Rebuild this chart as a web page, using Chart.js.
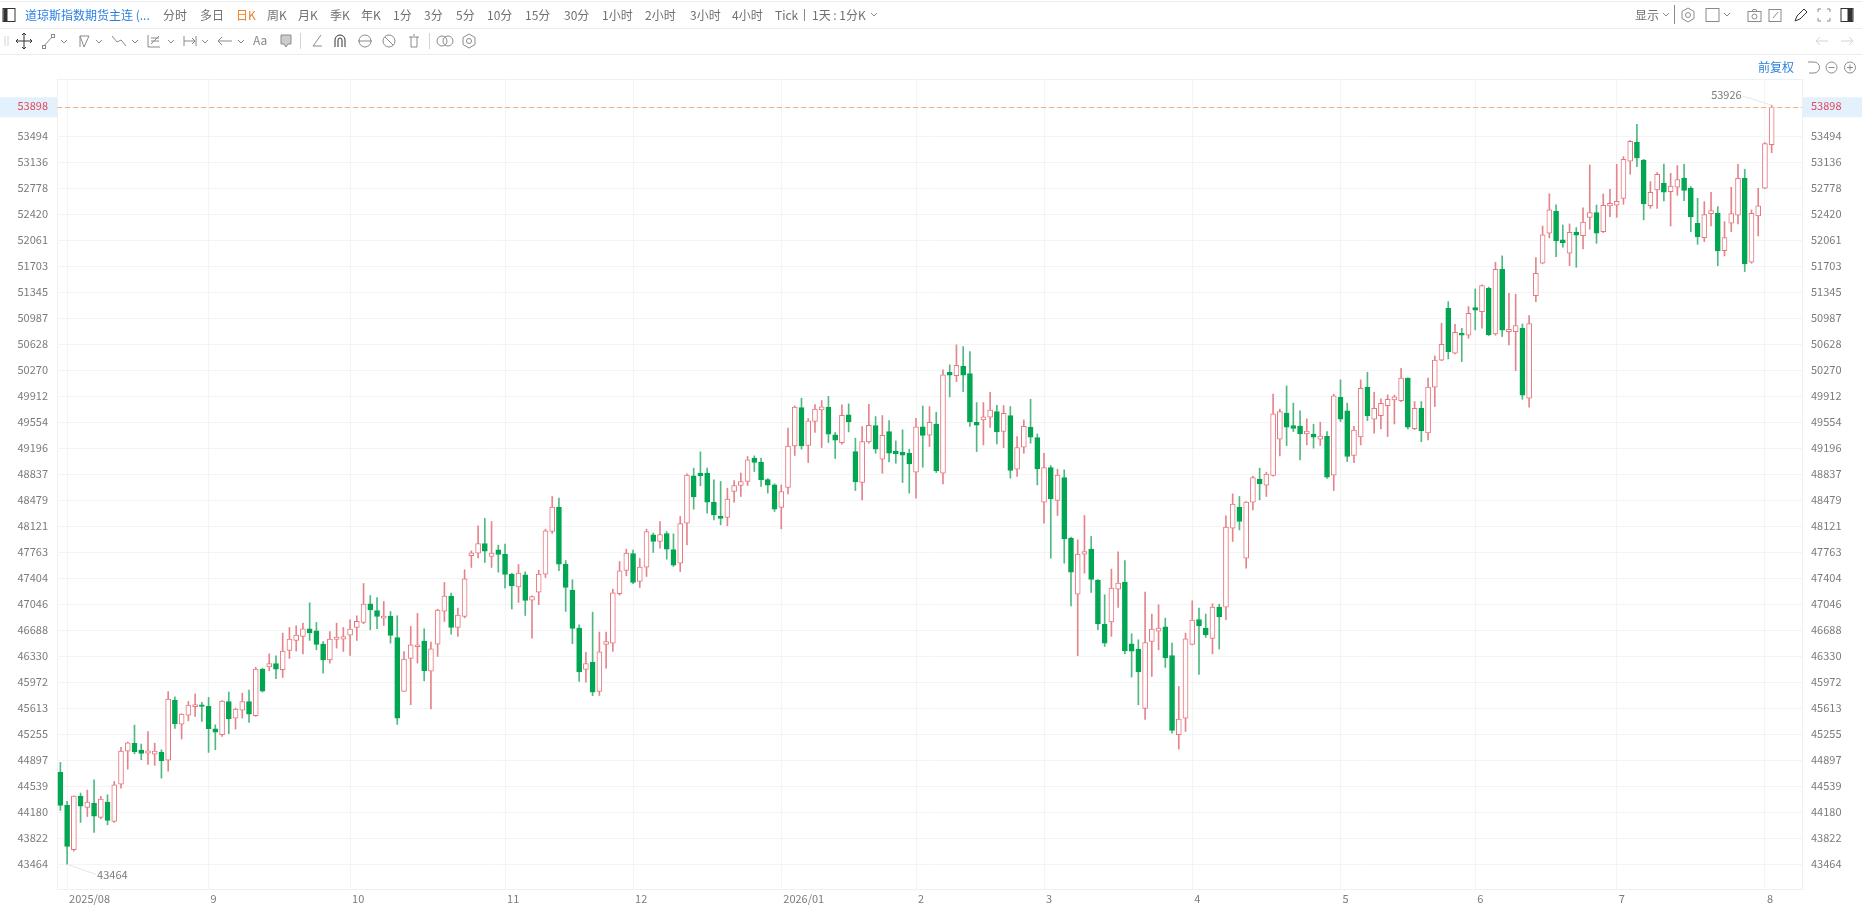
<!DOCTYPE html>
<html>
<head>
<meta charset="utf-8">
<title>道琼斯指数期货主连</title>
<script src="https://cdn.jsdelivr.net/npm/chart.js@4"></script>
<style>
    html, body { margin: 0; padding: 0; background: #fff; overflow: hidden; }
    body { width: 1862px; height: 918px; position: relative; font-family: "Noto Sans CJK SC", "Noto Sans", sans-serif; }
    canvas { position: absolute; left: 0; top: 0; }
    .bar { position: absolute; left: 0; width: 1862px; height: 1px; background: #ececec; }
    .t { position: absolute; top: 6px; font-size: 12px; line-height: 18px; color: #707070; white-space: nowrap; }
    #icons { position: absolute; left: 0; top: 0; }
    #icons * { fill: none; stroke: #8a8a8a; stroke-width: 1; }
    #icons .dark, #icons .dark * { stroke: #333; }
    #icons .pale, #icons .pale * { stroke: #d4d4d4; }
</style>
</head>
<body>
<canvas id="grafico" width="1862" height="918"></canvas>

<div class="bar" style="top:1px"></div>
<div class="bar" style="top:28px"></div>
<div class="bar" style="top:54px"></div>

<span class="t" style="left:25px;color:#2b7fe0">道琼斯指数期货主连 (...</span>
<span class="t" style="left:163px">分时</span>
<span class="t" style="left:200px">多日</span>
<span class="t" style="left:236px;color:#f0802a">日K</span>
<span class="t" style="left:267px">周K</span>
<span class="t" style="left:298px">月K</span>
<span class="t" style="left:330px">季K</span>
<span class="t" style="left:361px">年K</span>
<span class="t" style="left:393px">1分</span>
<span class="t" style="left:424px">3分</span>
<span class="t" style="left:456px">5分</span>
<span class="t" style="left:487px">10分</span>
<span class="t" style="left:525px">15分</span>
<span class="t" style="left:564px">30分</span>
<span class="t" style="left:602px">1小时</span>
<span class="t" style="left:645px">2小时</span>
<span class="t" style="left:690px">3小时</span>
<span class="t" style="left:732px">4小时</span>
<span class="t" style="left:775px">Tick</span>
<span class="t" style="left:812px">1天 : 1分K</span>
<span class="t" style="left:1635px">显示</span>
<span class="t" style="left:1758px;top:58px;color:#2b7fe0">前复权</span>

<svg id="icons" width="1862" height="78">
    <!-- fila 1 -->
    <g class="dark"><rect x="3" y="8.5" width="12" height="13"/><rect x="4" y="9.5" width="3" height="11" style="fill:#333"/></g>
    <path d="M804.5 9v12"/><path d="M871 13l3 3 3-3"/>
    <path d="M1663 13l3 3 3-3"/><path d="M1674.5 5v19"/>
    <path d="M1688 8l6 3.5v7l-6 3.5-6-3.5v-7z"/><circle cx="1688" cy="15" r="2.5"/>
    <rect x="1706" y="8.5" width="13" height="13"/><path d="M1724 13l3 3 3-3"/>
    <rect x="1748" y="11.5" width="13" height="10"/><circle cx="1754.5" cy="16.5" r="2.5"/><path d="M1752 11.5l1-2h3l1 2"/>
    <rect x="1769" y="9.5" width="12" height="12"/><path d="M1773 18l5-6"/>
    <g class="dark"><path d="M1795 21l2-5 7-7 3 3-7 7z"/></g>
    <path d="M1818 12v-3h3M1830 12v-3h-3M1818 18v3h3M1830 18v3h-3"/>
    <g class="dark"><rect x="1841" y="8.5" width="12" height="13"/><rect x="1848" y="9.5" width="4" height="11" style="fill:#333"/></g>
    <!-- fila 2 -->
    <path d="M5 36v10M8 36v10" class="pale"/>
    <g class="dark"><path d="M24 33v16M16 41h16M22 35l2-2 2 2M22 47l2 2 2-2M18 39l-2 2 2 2M30 39l2 2-2 2"/></g>
    <path d="M44 46l8-9"/><rect x="42.5" y="45.5" width="3" height="3"/><rect x="51.5" y="34.5" width="3" height="3"/><path d="M61 40l3 3 3-3"/>
    <path d="M80 36h9l-5 11zM80 36v11"/><path d="M96 40l3 3 3-3"/>
    <path d="M112 36l5 6 4-2 5 6"/><path d="M132 40l3 3 3-3"/>
    <path d="M148 35v12h12M151 44l8-8M151 38h8M151 41h8"/><path d="M168 40l3 3 3-3"/>
    <path d="M184 36v10M196 36v10M184 41h11M192 38l3 3-3 3"/><path d="M202 40l3 3 3-3"/>
    <path d="M232 41h-14M222 37l-4 4 4 4"/><path d="M238 40l3 3 3-3"/>
    <text x="253" y="45" style="font-size:12px;fill:#888;stroke:none">Aa</text>
    <path d="M281 35h10v9h-3l-2 3-2-3h-3z" style="fill:#ccc"/>
    <path d="M300.5 33v16" class="pale"/>
    <path d="M321 35l-8 11h9"/>
    <g class="dark"><path d="M335 47V40a5 5 0 0 1 10 0v7M338 47V40a2 2 0 0 1 4 0v7"/></g>
    <ellipse cx="365" cy="41" rx="6" ry="6"/><path d="M358 41h14"/>
    <circle cx="389" cy="41" r="6"/><path d="M385 37l8 8"/>
    <path d="M409 37h10M411 37v10h6V37M413 35h2"/>
    <path d="M429.5 33v16" class="pale"/>
    <circle cx="442" cy="41" r="5"/><circle cx="448" cy="41" r="5"/>
    <path d="M469 34l6 3.5v7l-6 3.5-6-3.5v-7z"/><circle cx="469" cy="41" r="2.5"/>
    <g class="pale"><path d="M1816 41h12M1820 37l-4 4 4 4"/><path d="M1853 41h-12M1849 37l4 4-4 4"/></g>
    <!-- fila 3 -->
    <path d="M1808 62h6a5 5 0 0 1 0 11h-5"/><circle cx="1831.5" cy="67.5" r="5.5"/><path d="M1828.5 67.5h6"/>
    <circle cx="1850" cy="67.5" r="5.5"/><path d="M1847 67.5h6M1850 64.5v6"/>
</svg>

<script>
// velas diarias
const opens = [
    44736,44277,43666,44405,44249,44304,44111,44323,44056,44571,
    45025,45131,45039,44998,44984,45011,44901,45728,45397,45521,
    45636,45664,45641,45333,45250,45709,45480,45590,45709,45512,
    46155,46187,46233,46146,46412,46550,46605,46711,46683,46500,
    46283,46564,46568,46623,46729,46798,47055,46963,46858,46886,
    46591,45847,46302,46463,46541,46127,46499,46954,47160,46729,
    46880,47717,47753,47886,47707,47799,47739,47464,47289,47455,
    47106,47216,47464,48052,48387,47602,47243,46720,46150,46251,
    45847,46495,46513,47193,47514,47748,47363,47560,48006,47914,
    48024,47804,47615,48166,48819,48855,48855,48456,48263,48244,
    48603,48685,48741,49062,49007,48768,48695,48382,48658,49232,
    49760,49237,49567,49728,49765,49384,49277,49658,49153,48727,
    49286,49511,49047,49429,49158,49144,49130,48869,49493,49378,
    49530,48855,50246,50200,50329,50228,49557,49589,49626,49704,
    49429,49649,48910,49213,49488,49346,48456,48933,48479,48795,
    47960,47188,47739,47808,47381,46775,46807,47257,47353,46504,
    46431,45613,46536,46679,46738,46343,45250,45480,46495,46839,
    46720,46577,47009,47009,48097,48387,47684,48456,48773,48690,
    48823,49324,49682,49512,49503,49397,49393,49324,49365,48828,
    49902,49714,49100,49356,50040,49599,49649,49787,49865,49856,
    50164,49470,49750,49411,50040,50412,51128,50508,50783,50756,
    51137,51082,51403,50774,51665,50806,50806,50852,49888,51302,
    51748,52162,52463,52070,51888,52175,52129,52381,52446,52184,
    52538,52547,52643,53153,53415,53171,52542,52758,52850,52735,
    52795,52923,52785,52299,52101,52432,52436,51922,52299,52409,
    52919,51762,52400,52781,53382
];
const highs = [
    44869,44332,44410,44447,44488,44630,44401,44424,44607,45076,
    45149,45383,45122,45296,45135,45044,45847,45774,45540,45709,
    45815,45696,45765,45388,45723,45838,45618,45824,45866,46182,
    46168,46366,46339,46651,46729,46752,46789,47069,46798,46536,
    46674,46789,46729,46834,46890,47335,47169,47142,47087,46949,
    46890,46398,46743,46922,46711,46527,46982,47349,47202,46995,
    47524,47785,48130,48231,48189,47863,47877,47478,47597,47496,
    47166,47519,48084,48534,48511,47652,47386,46766,46385,46940,
    46665,46665,47257,47638,47808,47794,47680,48084,48029,48189,
    48051,48019,48258,48846,48924,49149,48924,48764,48741,48648,
    48754,48855,49085,49094,49062,48782,48708,48694,49475,49783,
    49889,49609,49801,49856,49912,49416,49796,49810,49337,49498,
    49805,49635,49649,49580,49300,49452,49185,49612,49782,49773,
    49695,50278,50347,50623,50600,50531,49828,49828,49970,49791,
    49787,49773,49360,49589,49874,49396,49130,48960,48910,48901,
    47975,47937,48272,47983,47390,47179,47533,47771,47652,46642,
    46559,47216,46913,47041,46858,46513,45916,46651,47096,46995,
    46913,47055,47050,48267,48570,48534,48465,48815,48924,48869,
    49944,49737,50058,49820,49714,49604,49530,49558,49429,49944,
    50141,49820,49500,50141,50246,49971,49879,49934,49930,50301,
    50170,49842,49842,50164,50471,50921,51220,50907,50852,51151,
    51394,51450,51420,51762,51849,51335,51321,50912,51027,51826,
    52260,52706,52553,52275,52290,52240,52510,53102,52551,52703,
    52767,53111,53217,53440,53663,53180,52873,52997,53116,52987,
    53093,53111,52805,52643,52597,52726,52528,52322,52795,53111,
    53043,52482,52781,53412,53926
];
const lows = [
    44208,43464,43648,44043,44125,43905,44093,44010,44043,44516,
    44777,44989,44906,44842,44828,44653,44750,45338,45191,45443,
    45503,45434,45007,45044,45227,45264,45328,45480,45420,45503,
    45838,46132,46022,46040,46302,46403,46366,46550,46421,46100,
    46238,46444,46398,46343,46550,46780,46697,46711,46756,46513,
    45393,45847,45664,46238,45994,45608,46329,46812,46637,46605,
    46860,47556,47689,47625,47556,47491,47271,46982,47074,46894,
    46583,47041,47418,48024,47510,46950,46504,45985,45976,45788,
    45792,46169,46398,47174,47441,47331,47280,47432,47762,47822,
    47670,47569,47500,47868,48359,48681,48304,48212,48143,48130,
    48456,48534,48685,48878,48672,48580,48327,48088,48570,49099,
    49186,49002,49416,49209,49278,49057,49254,49424,48616,48488,
    49268,49130,48855,49011,48992,48727,48580,48511,48937,49222,
    48864,48708,49906,50117,49980,49498,49153,49245,49484,49259,
    49208,48786,48809,49130,49268,48694,48166,47684,48272,47615,
    47027,46339,47477,47211,46697,46467,46605,47005,46366,46045,
    45664,45462,46054,46421,46178,45273,45053,45296,46490,46082,
    46591,46366,46431,46835,47914,48074,47546,48350,48488,48534,
    48815,49094,49236,49429,49039,49246,49200,49236,48782,48616,
    49567,49016,49000,49245,49580,49406,49466,49360,49534,49840,
    49466,49455,49288,49315,49773,50405,50430,50500,50393,50715,
    50829,50852,50751,50756,50738,50623,50269,49874,49764,51220,
    51740,52097,51840,51969,51715,51693,51946,52216,52023,52170,
    52391,52381,52560,52974,53079,52345,52505,52505,52606,52262,
    52684,52611,52184,52009,52046,52262,51715,51849,52184,52289,
    51633,51748,52124,52775,53272
];
const closes = [
    44277,43712,44405,44268,44323,44130,44364,44070,44561,45025,
    45140,45016,44993,45030,45025,44892,45742,45402,45535,45659,
    45668,45641,45333,45287,45714,45471,45604,45709,45535,46155,
    45852,46233,46155,46403,46568,46623,46711,46655,46495,46283,
    46568,46596,46605,46706,46812,47051,46972,46880,46886,46619,
    45480,46293,46490,46490,46132,46435,46968,47160,46729,46899,
    47400,47758,47886,47781,47753,47735,47459,47303,47478,47101,
    47156,47464,48061,48387,47602,47280,46715,46118,46233,45838,
    46394,46536,47207,47510,47753,47349,47560,48051,47914,48010,
    47808,47588,48162,48828,48529,48818,48456,48281,48231,48497,
    48685,48740,49039,49002,48764,48690,48359,48603,49227,49765,
    49232,49576,49737,49769,49393,49310,49654,49562,48736,49291,
    49516,49185,49378,49130,49121,49103,48983,49493,49374,49557,
    48887,50209,50205,50342,50205,49562,49516,49631,49723,49424,
    49681,48892,49208,49502,49351,48914,48933,48502,48828,47950,
    47491,47739,47776,47390,46779,46513,47271,47340,46408,46403,
    46118,46522,46706,46720,46311,45310,45466,46573,46830,46752,
    46628,47009,46876,48111,48428,48189,48456,48795,48708,48841,
    49673,49705,49489,49471,49397,49434,49351,49365,48800,49921,
    49599,49085,49450,50026,49645,49750,49819,49874,49906,50164,
    49489,49750,49440,50040,50412,50632,50531,50797,50756,51059,
    51100,51440,50765,51665,50825,50839,50889,49929,50917,51610,
    52138,52483,52056,52033,52175,52134,52317,52446,52161,52547,
    52574,52602,53180,53428,53199,52565,52726,52974,52726,52813,
    52900,52753,52386,52115,52418,52473,51918,52101,52432,52919,
    51739,52436,52538,53396,53898
];

// eje de precios
const priceTicks = [
    53898,53494,53136,52778,52420,52061,51703,51345,50987,50628,
    50270,49912,49554,49196,48837,48479,48121,47763,47404,47046,
    46688,46330,45972,45613,45255,44897,44539,44180,43822,43464
];
const priceMin = 43125;
const priceMax = 54287;
const lastPrice = 53898;

// eje de tiempo: vela donde empieza cada mes
const monthCandles = [1, 22, 43, 66, 85, 107, 127, 146, 168, 190, 210, 231, 253];
const monthLabels = ['2025/08', '9', '10', '11', '12', '2026/01', '2', '3', '4', '5', '6', '7', '8'];
const emptySlots = 4; // hueco a la derecha de la ultima vela

const TEXT_GREY = '#7b7b7b';
const GRID = '#f2f4f6';
const RED = '#e8767e';
const RED_WICK = '#e5858b';
const GREEN = '#00a651';
const GREEN_WICK = '#4fb981';
const FONT = '"Noto Sans CJK SC", "Noto Sans", sans-serif';

const isUp = opens.map((o, i) => closes[i] >= o);
const categories = Array.from({ length: opens.length + emptySlots }, (_, i) => i);

// linea del ultimo precio, franjas de los ejes y etiquetas de max/min
const decoraciones = {
    id: 'decoraciones',
    beforeDraw(chart) {
        const { ctx, chartArea: a, scales } = chart;
        const y = scales.y.getPixelForValue(lastPrice);
        ctx.save();
        ctx.fillStyle = '#e3f1fd';
        ctx.fillRect(0, y - 10, a.left, 20);
        ctx.fillRect(a.right, y - 10, chart.width - a.right, 20);
        ctx.strokeStyle = '#eef0f2';
        ctx.lineWidth = 1;
        ctx.strokeRect(a.left + 0.5, a.top + 0.5, a.right - a.left, a.bottom - a.top);
        ctx.restore();
    },
    afterDatasetsDraw(chart) {
        const { ctx, chartArea: a, scales } = chart;
        const y = scales.y.getPixelForValue(lastPrice);
        ctx.save();
        ctx.strokeStyle = '#f5b383';
        ctx.lineWidth = 1;
        ctx.setLineDash([5, 3]);
        ctx.beginPath();
        ctx.moveTo(a.left, Math.round(y) + 0.5);
        ctx.lineTo(a.right, Math.round(y) + 0.5);
        ctx.stroke();
        ctx.setLineDash([]);

        ctx.font = '11px ' + FONT;
        ctx.fillStyle = TEXT_GREY;
        ctx.strokeStyle = '#e4e6e8';
        ctx.textBaseline = 'middle';

        const top = highs.indexOf(Math.max(...highs));
        const topX = scales.x.getPixelForValue(top);
        const topY = scales.y.getPixelForValue(highs[top]);
        ctx.textAlign = 'right';
        ctx.fillText(String(highs[top]), topX - 30, topY - 10);
        ctx.beginPath();
        ctx.moveTo(topX - 29, topY - 9);
        ctx.lineTo(topX, topY);
        ctx.stroke();

        const bottom = lows.indexOf(Math.min(...lows));
        const botX = scales.x.getPixelForValue(bottom);
        const botY = scales.y.getPixelForValue(lows[bottom]);
        ctx.textAlign = 'left';
        ctx.fillText(String(lows[bottom]), botX + 30, botY + 10);
        ctx.beginPath();
        ctx.moveTo(botX, botY);
        ctx.lineTo(botX + 29, botY + 10);
        ctx.stroke();
        ctx.restore();
    }
};

const priceAxis = (position) => ({
    type: 'linear',
    position: position,
    min: priceMin,
    max: priceMax,
    afterBuildTicks: (scale) => { scale.ticks = priceTicks.map((v) => ({ value: v })); },
    afterFit: (scale) => { scale.width = position === 'left' ? 57 : 60; },
    border: { display: false },
    grid: { display: position === 'left', color: GRID, drawTicks: false },
    ticks: {
        autoSkip: false,
        padding: 9,
        labelOffset: -1,
        font: { size: 11, family: FONT },
        color: (c) => (c.tick.value === lastPrice ? '#e0485c' : TEXT_GREY),
        callback: (v) => String(v)
    }
});

new Chart(document.getElementById('grafico'), {
    type: 'bar',
    plugins: [decoraciones],
    data: {
        labels: categories,
        datasets: [
            {
                // cuerpo
                label: 'cuerpo',
                order: 1,
                data: opens.map((o, i) => [o, closes[i]]),
                barThickness: 5,
                borderWidth: 1,
                borderSkipped: false,
                backgroundColor: isUp.map((u) => (u ? '#ffffff' : GREEN)),
                borderColor: isUp.map((u) => (u ? RED : GREEN))
            },
            {
                // mecha
                label: 'mecha',
                order: 2,
                data: lows.map((l, i) => [l, highs[i]]),
                barThickness: 1,
                borderWidth: 0,
                backgroundColor: isUp.map((u) => (u ? RED_WICK : GREEN_WICK))
            }
        ]
    },
    options: {
        responsive: false,
        animation: false,
        layout: { padding: { top: 79 } },
        datasets: { bar: { grouped: false } },
        scales: {
            x: {
                offset: true,
                afterBuildTicks: (scale) => { scale.ticks = monthCandles.map((v) => ({ value: v })); },
                afterFit: (scale) => { scale.height = 29; },
                border: { display: false },
                grid: { color: GRID, offset: false, drawTicks: false },
                ticks: {
                    autoSkip: false,
                    maxRotation: 0,
                    align: 'start',
                    labelOffset: 2,
                    padding: 3,
                    font: { size: 11, family: FONT },
                    color: TEXT_GREY,
                    callback: (v) => monthLabels[monthCandles.indexOf(v)]
                }
            },
            y: priceAxis('left'),
            yr: priceAxis('right')
        },
        plugins: {
            legend: { display: false },
            tooltip: { enabled: false }
        }
    }
});
</script>
</body>
</html>
